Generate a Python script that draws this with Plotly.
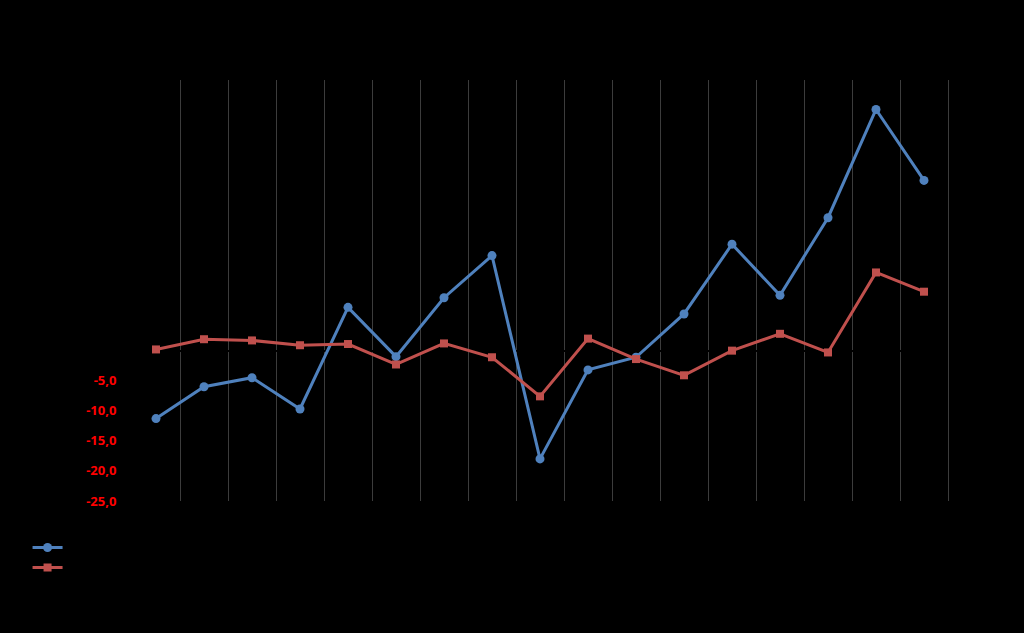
import plotly.graph_objects as go

categories = [str(y) for y in range(2000, 2017)]
serie_azul = [-11.3, -6.0, -4.5, -9.7, 7.2, -1.0, 8.8, 15.8, -18.0, -3.2, -1.1, 6.1, 17.7, 9.2, 22.1, 40.1, 28.3]
serie_vermelha = [0.2, 1.9, 1.7, 0.9, 1.1, -2.3, 1.2, -1.1, -7.6, 2.0, -1.4, -4.1, 0.0, 2.8, -0.3, 13.0, 9.8]
nomes = ["Série 1", "Série 2"]
y_ticks = list(range(-25, 50, 5))

def fmt(v):
    s = f"{v:.1f}".replace(".", ",")
    if v < 0:
        return f"<span style='color:#FF0000'>{s}</span>"
    return s

x_idx = list(range(len(categories)))
n = len(categories)

fig = go.Figure()
# dummy trace to activate gridline axis and right edge axis
fig.add_trace(go.Scatter(x=[None], y=[None], xaxis="x2", yaxis="y2", showlegend=False, hoverinfo="skip"))
fig.add_trace(go.Scatter(
    x=x_idx, y=serie_azul, name=nomes[0], mode="lines+markers",
    line=dict(color="#4F81BD", width=3),
    marker=dict(symbol="circle", size=9, color="#4F81BD"),
))
fig.add_trace(go.Scatter(
    x=x_idx, y=serie_vermelha, name=nomes[1], mode="lines+markers",
    line=dict(color="#C0504D", width=3),
    marker=dict(symbol="square", size=8, color="#C0504D"),
))

boundaries = [i + 0.5 for i in range(-1, n)]
xr = [-0.5, n - 0.5]

fig.update_layout(
    width=1024, height=633,
    paper_bgcolor="#000000", plot_bgcolor="#000000",
    margin=dict(l=132, r=76, t=80, b=132, autoexpand=False),
    hovermode=False,
    font=dict(family="Open Sans", color="#000000", size=13),
    showlegend=True,
    legend=dict(
        x=-0.128, y=-0.075, xanchor="left", yanchor="top",
        bgcolor="rgba(0,0,0,0)", font=dict(color="#000000", size=13),
        tracegroupgap=0,
    ),
    xaxis=dict(
        range=xr,
        tickmode="array", tickvals=x_idx, ticktext=categories,
        showgrid=False, zeroline=False, showline=False, ticks="",
        tickfont=dict(color="#000000", size=13),
    ),
    xaxis2=dict(
        overlaying="x", range=xr,
        tickmode="array", tickvals=boundaries, showticklabels=False,
        showgrid=True, gridcolor="#3C3C3C", gridwidth=1, zeroline=False, ticks="",
    ),
    yaxis=dict(
        range=[-25, 45], tickmode="array", tickvals=y_ticks,
        ticktext=[fmt(v) for v in y_ticks],
        showgrid=False, zeroline=True, zerolinecolor="#000000", zerolinewidth=2,
        showline=True, linecolor="#000000", linewidth=2,
        ticks="", ticklabelstandoff=11,
        tickfont=dict(family="Open Sans", color="#000000", size=13, weight="bold"),
    ),
    yaxis2=dict(
        overlaying="y", side="right", range=[-25, 45],
        showgrid=False, zeroline=False, showticklabels=False, ticks="",
        showline=True, linecolor="#3C3C3C", linewidth=1,
    ),
)

fig.write_html(
    "out.html",
    config={"displayModeBar": False},
    post_script="document.body.style.margin='0';document.body.style.background='#000';",
)
